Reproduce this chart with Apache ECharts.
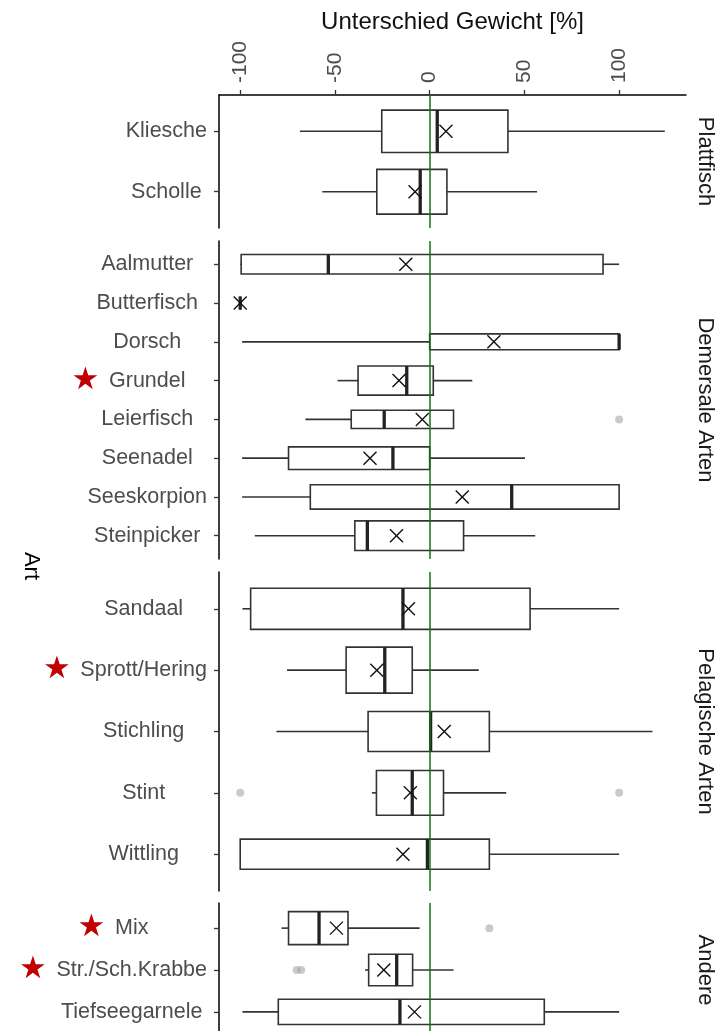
<!DOCTYPE html>
<html><head><meta charset="utf-8">
<script src="https://cdn.jsdelivr.net/npm/echarts@6/dist/echarts.min.js"></script>
<style>html,body{margin:0;padding:0;background:#fff}#c{width:718px;height:1031px}</style>
</head><body><div id="c"></div>
<script>
// ---------------- data ----------------
const panelNames = ['Plattfisch', 'Demersale Arten', 'Pelagische Arten', 'Andere'];
const species = ['Kliesche', 'Scholle',
  'Aalmutter', 'Butterfisch', 'Dorsch', 'Grundel', 'Leierfisch', 'Seenadel', 'Seeskorpion', 'Steinpicker',
  'Sandaal', 'Sprott/Hering', 'Stichling', 'Stint', 'Wittling',
  'Mix', 'Str./Sch.Krabbe', 'Tiefseegarnele'];
const speciesPanel = [0, 0, 1, 1, 1, 1, 1, 1, 1, 1, 2, 2, 2, 2, 2, 3, 3, 3];
const whiskerLow  = [-68.5, -56.7, -100, -100, -99, -48.6, -65.6, -99, -99, -92.3, -98.8, -75.3, -80.9, -30.5, -100, -78.2, -34.1, -98.8];
const q1          = [-25.3, -27.9, -99.5, -100, 0, -37.8, -41.4, -74.5, -63, -39.5, -94.5, -44.1, -32.5, -28.1, -100, -74.5, -32.2, -79.9];
const median      = [4.0, -5.0, -53.5, -100, 100, -12.1, -24.0, -19.4, 43.3, -32.9, -14.1, -23.7, 0.5, -9.2, -1.2, -58.4, -17.4, -15.7];
const q3          = [41.3, 9.1, 91.5, -100, 100, 1.9, 12.6, 0, 100, 17.9, 53.0, -9.2, 31.5, 7.3, 31.5, -43.1, -9.0, 60.5];
const whiskerHigh = [124.1, 56.7, 100, -100, 100, 22.5, 12.6, 50.3, 100, 55.7, 100, 25.9, 117.6, 40.4, 100, -5.3, 12.6, 100];
const meanValue   = [8.6, -7.7, -12.6, -100, 33.9, -16.2, -3.9, -31.5, 17.2, -17.5, -11.2, -27.9, 7.7, -10.2, -14.1, -49.2, -24.2, -8.0];
// relative box width (varwidth, ~ sqrt(n))
const relBoxWidth = [0.70, 0.74, 0.50, 0.34, 0.41, 0.75, 0.47, 0.585, 0.63, 0.765, 0.67, 0.75, 0.65, 0.73, 0.49, 0.79, 0.755, 0.60];
const outlierSpecies = ['Leierfisch', 'Stint', 'Stint', 'Mix', 'Str./Sch.Krabbe', 'Str./Sch.Krabbe'];
const outlierValue   = [100, -100, 100, 31.5, -70.2, -67.8];
const starredSpecies = ['Grundel', 'Sprott/Hering', 'Mix', 'Str./Sch.Krabbe'];
const xTicks = [-100, -50, 0, 50, 100];
const xRange = [-111.2, 135.3];
const xTitle = 'Unterschied Gewicht [%]';
const yTitle = 'Art';

// ---------------- layout ----------------
const panelTop = [95, 241, 572, 903];
const panelHeight = [133, 318, 319, 134];
const gridLeft = 219, gridRight = 32;
const FONT = 'Liberation Sans, Arial, Helvetica, sans-serif';
const LABEL_SIZE = 21.5;
const LABEL_GAP = 12;       // gap between widest label and axis
const STAR_W = 27, STAR_PAD = 10;

const measureCtx = document.createElement('canvas').getContext('2d');
measureCtx.font = LABEL_SIZE + 'px ' + FONT;
const textWidth = t => measureCtx.measureText(t).width;

const chart = echarts.init(document.getElementById('c'), null, {renderer: 'canvas'});

function renderBox(params, api) {
  const y = api.value(0);
  const unit = api.size([0, 1])[1];
  const h = api.value(7) * unit / 2;
  const P = v => api.coord([v, y]);
  const lo = P(api.value(1)), a = P(api.value(2)), m = P(api.value(3)),
        b = P(api.value(4)), hi = P(api.value(5)), mn = P(api.value(6));
  const yc = lo[1];
  const st = {stroke: '#333', lineWidth: 1.6, fill: null};
  const s = 6.5;
  return {type: 'group', children: [
    {type: 'line', shape: {x1: lo[0], y1: yc, x2: a[0], y2: yc}, style: st},
    {type: 'line', shape: {x1: b[0], y1: yc, x2: hi[0], y2: yc}, style: st},
    {type: 'rect', shape: {x: a[0], y: yc - h, width: b[0] - a[0], height: 2 * h}, style: {fill: '#fff', stroke: '#333', lineWidth: 1.6}},
    {type: 'line', shape: {x1: m[0], y1: yc - h, x2: m[0], y2: yc + h}, style: {stroke: '#222', lineWidth: 3.3}},
    {type: 'line', shape: {x1: mn[0] - s, y1: yc - s, x2: mn[0] + s, y2: yc + s}, style: {stroke: '#111', lineWidth: 1.4}},
    {type: 'line', shape: {x1: mn[0] - s, y1: yc + s, x2: mn[0] + s, y2: yc - s}, style: {stroke: '#111', lineWidth: 1.4}}
  ]};
}

const grids = [], xAxes = [], yAxes = [], series = [];
panelNames.forEach((pname, p) => {
  const cats = species.filter((s, i) => speciesPanel[i] === p);
  const n = cats.length;
  const idx = cats.map((_, k) => k);
  const maxW = Math.max.apply(null, cats.map(textWidth));
  grids.push({left: gridLeft, right: gridRight, top: panelTop[p], height: panelHeight[p], outerBoundsMode: 'none', containLabel: false});
  xAxes.push({
    gridIndex: p, type: 'value', min: xRange[0], max: xRange[1], position: 'top',
    show: p === 0,
    axisLine: {show: true, onZero: false, lineStyle: {color: '#000', width: 1.5}},
    axisTick: {show: true, length: 5, customValues: xTicks, lineStyle: {color: '#333', width: 1.3}},
    axisLabel: {customValues: xTicks, rotate: -90, margin: 12, fontSize: 21, color: '#4d4d4d', fontFamily: FONT},
    splitLine: {show: false},
    name: p === 0 ? xTitle : '', nameLocation: 'middle', nameGap: 61,
    nameTextStyle: {fontSize: 24, color: '#111', fontFamily: FONT}
  });
  yAxes.push({
    gridIndex: p, type: 'value', min: -0.6, max: n - 0.4, inverse: true, position: 'left',
    axisLine: {show: true, onZero: false, lineStyle: {color: '#000', width: 1.5}},
    axisTick: {show: true, length: 5, customValues: idx, lineStyle: {color: '#333', width: 1.3}},
    axisLabel: {
      customValues: idx, margin: LABEL_GAP + maxW / 2, align: 'center',
      fontSize: LABEL_SIZE, color: '#4d4d4d', fontFamily: FONT,
      formatter: v => {
        const name = cats[Math.round(v)];
        return starredSpecies.includes(name) ? '{st|★}' + name + '{sp| }' : name;
      },
      rich: {
        st: {color: '#c00000', fontSize: 31, fontFamily: 'DejaVu Sans', width: STAR_W, align: 'center', padding: [0, STAR_PAD, 0, 0]},
        sp: {width: STAR_W + STAR_PAD, fontSize: LABEL_SIZE}
      }
    },
    splitLine: {show: false}
  });
  yAxes.push({
    gridIndex: p, type: 'value', min: -0.6, max: n - 0.4, inverse: true, position: 'right',
    axisLine: {show: false, onZero: false}, axisTick: {show: false}, axisLabel: {show: false}, splitLine: {show: false},
    name: pname, nameLocation: 'middle', nameRotate: -90, nameGap: 8,
    nameTextStyle: {fontSize: 22, color: '#1a1a1a', fontFamily: FONT}
  });
  const boxData = [];
  species.forEach((s, i) => {
    if (speciesPanel[i] !== p) return;
    boxData.push([cats.indexOf(s), whiskerLow[i], q1[i], median[i], q3[i], whiskerHigh[i], meanValue[i], relBoxWidth[i]]);
  });
  series.push({
    type: 'custom', xAxisIndex: p, yAxisIndex: 2 * p, renderItem: renderBox, clip: false,
    encode: {x: [1, 2, 3, 4, 5, 6], y: 0}, data: boxData, silent: true, z: 2,
    markLine: {silent: true, symbol: 'none', label: {show: false}, animation: false,
      lineStyle: {color: '#117411', width: 1.5, type: 'solid'}, emphasis: {disabled: true},
      data: [{xAxis: 0}]}
  });
  const outData = [];
  outlierSpecies.forEach((s, k) => {
    const j = cats.indexOf(s);
    if (j >= 0) outData.push([outlierValue[k], j]);
  });
  series.push({
    type: 'scatter', xAxisIndex: p, yAxisIndex: 2 * p, data: outData, symbol: 'circle', symbolSize: 8,
    itemStyle: {color: 'rgba(160,160,160,0.7)'}, silent: true, z: 3
  });
});
// overall y-axis title "Art"
grids.push({left: gridLeft, right: gridRight, top: panelTop[0], height: panelTop[3] + panelHeight[3] - panelTop[0], outerBoundsMode: 'none'});
xAxes.push({gridIndex: 4, type: 'value', show: false, min: 0, max: 1});
yAxes.push({gridIndex: 4, type: 'value', min: 0, max: 1, position: 'left',
  axisLine: {show: false, onZero: false}, axisTick: {show: false}, axisLabel: {show: false}, splitLine: {show: false},
  name: yTitle, nameLocation: 'middle', nameRotate: -90, nameGap: 177,
  nameTextStyle: {fontSize: 22, color: '#000', fontFamily: FONT}});

chart.setOption({
  animation: false,
  backgroundColor: '#fff',
  textStyle: {fontFamily: FONT},
  grid: grids, xAxis: xAxes, yAxis: yAxes, series: series
});
</script></body></html>
